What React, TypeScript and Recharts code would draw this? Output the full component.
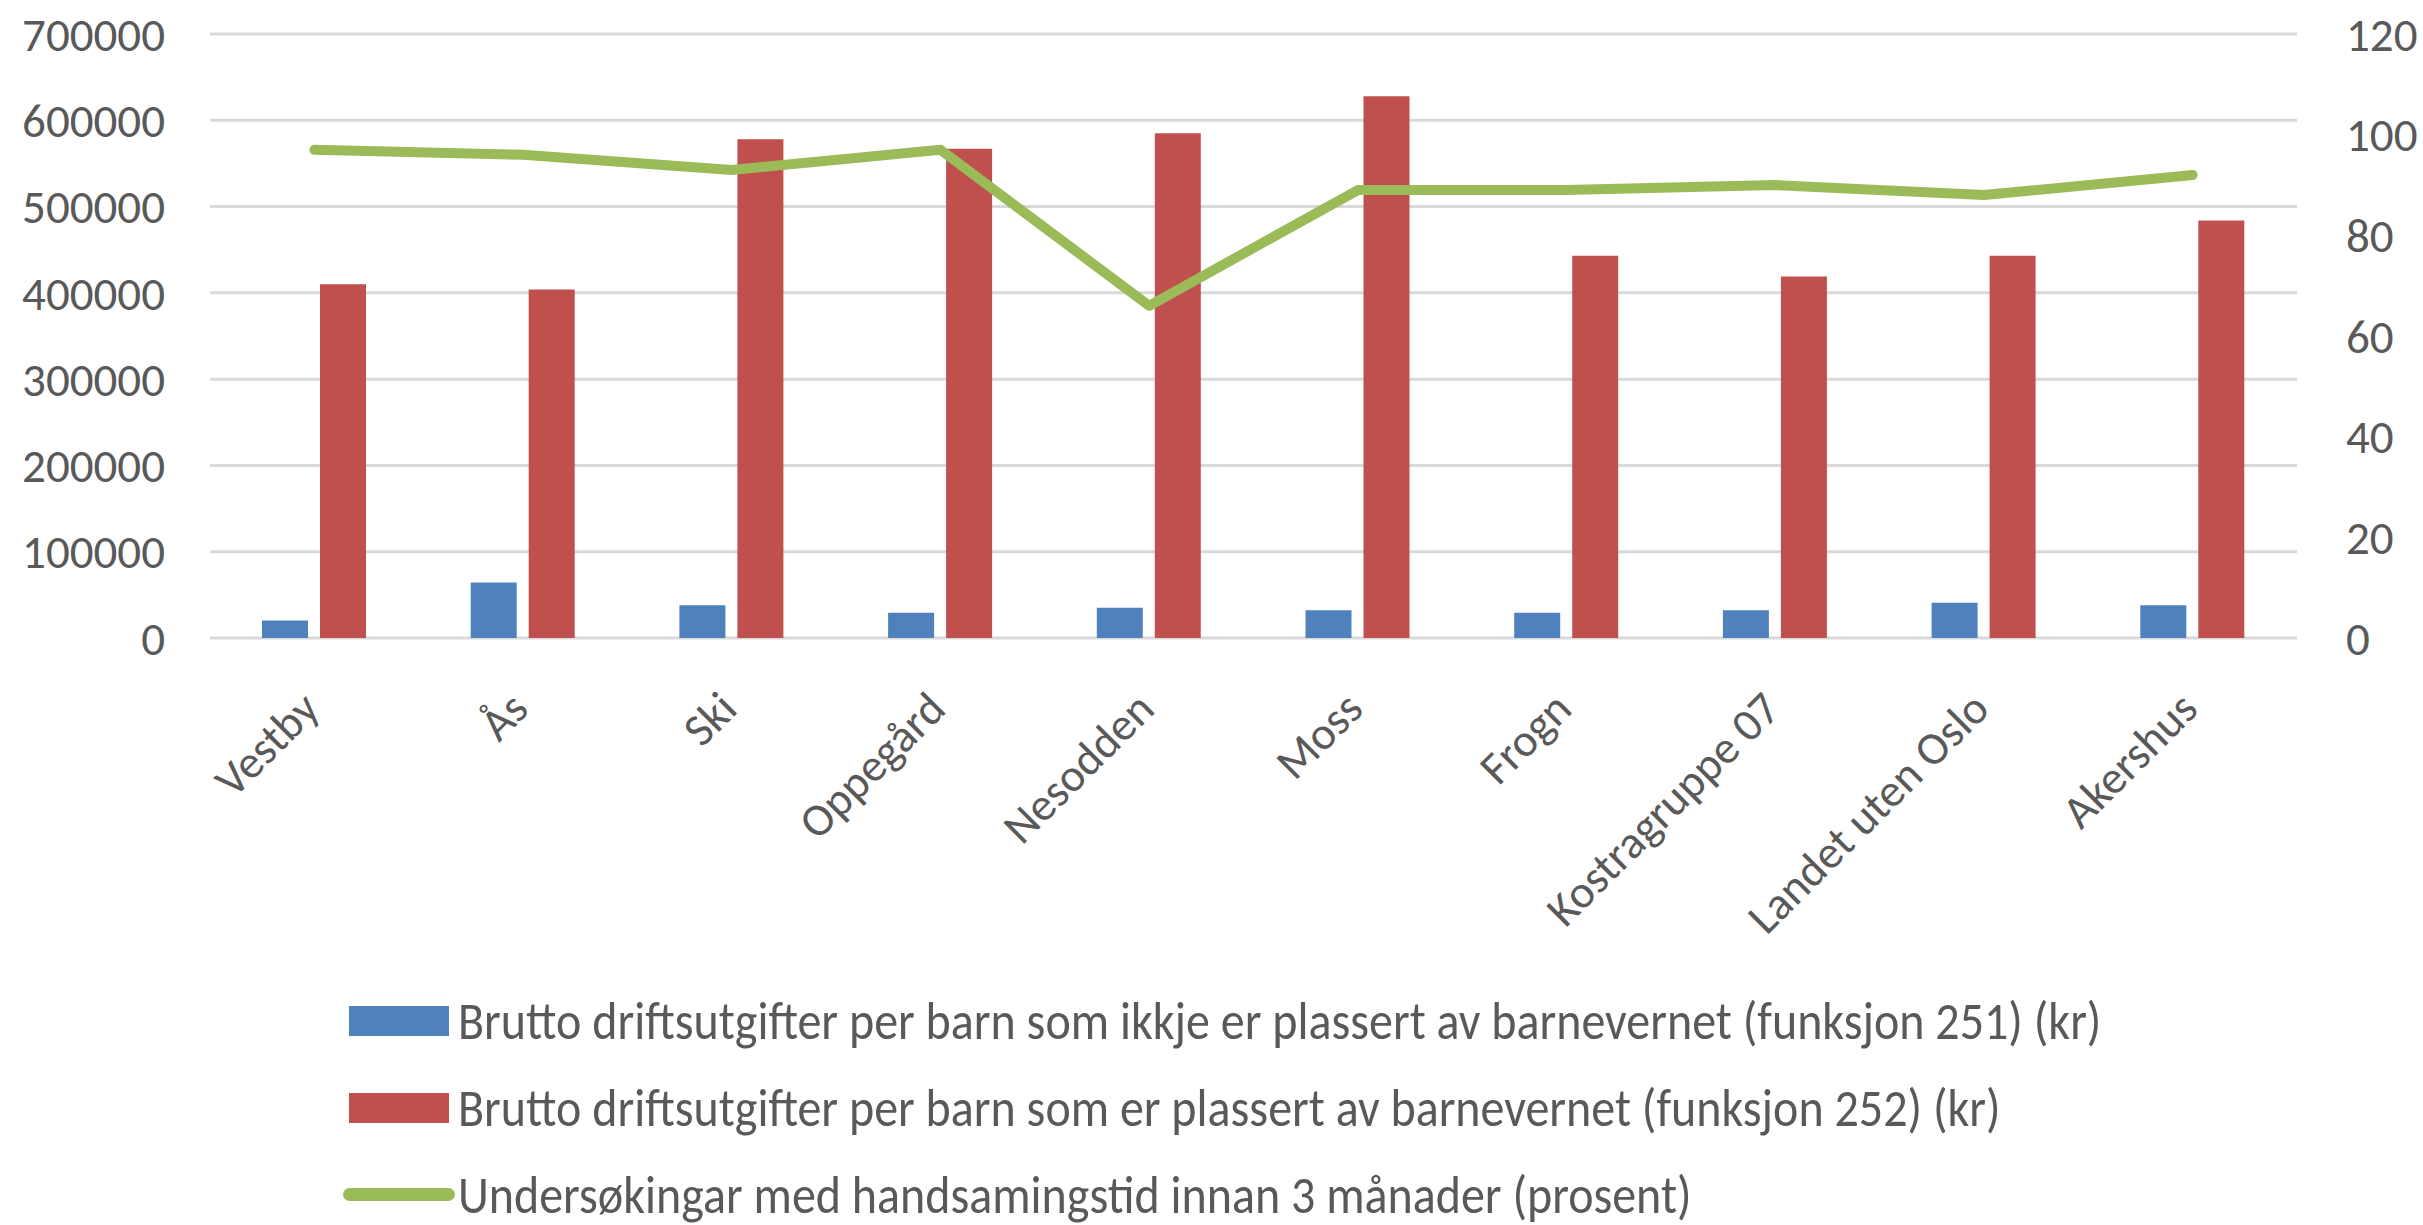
import React from 'react'
import { ComposedChart, Bar, Line, XAxis, YAxis, CartesianGrid } from 'recharts'

const categories = ['Vestby', 'Ås', 'Ski', 'Oppegård', 'Nesodden', 'Moss', 'Frogn', 'Kostragruppe 07', 'Landet uten Oslo', 'Akershus']
const utgifter251 = [20400, 64300, 38000, 29200, 35100, 32100, 29200, 32100, 40900, 38000]
const utgifter252 = [410000, 404000, 578000, 567000, 585000, 628000, 443000, 419000, 443000, 484000]
const innan3mnd = [97, 96, 93, 97, 66, 89, 89, 90, 88, 92]

const leftTicks = [0, 100000, 200000, 300000, 400000, 500000, 600000, 700000]
const rightTicks = [0, 20, 40, 60, 80, 100, 120]

const seriesNames = [
  'Brutto driftsutgifter per barn som ikkje er plassert av barnevernet (funksjon 251) (kr)',
  'Brutto driftsutgifter per barn som er plassert av barnevernet (funksjon 252) (kr)',
  'Undersøkingar med handsamingstid innan 3 månader (prosent)',
]

const BLUE = '#4F81BD'
const RED = '#C0504D'
const GREEN = '#9BBB59'
const TEXT = '#595959'
const FONT = 'Carlito, "Liberation Sans", Arial, sans-serif'

const data = categories.map((name, i) => ({
  name,
  f251: utgifter251[i],
  f252: utgifter252[i],
  pct: innan3mnd[i],
}))

const AXIS_TICK = { fontSize: 47, fill: TEXT, fontFamily: FONT }

function CategoryTick({ x, y, payload }: any) {
  return (
    <g transform={`translate(${x - 4},${y + 62})`}>
      <text transform="rotate(-45)" textAnchor="end" dy="0.35em" fill={TEXT} fontSize={46} fontFamily={FONT}>
        {payload.value}
      </text>
    </g>
  )
}

function LegendRow({ kind, color, label }: { kind: 'bar' | 'line'; color: string; label: string }) {
  return (
    <div style={{ display: 'flex', alignItems: 'center', height: 87 }}>
      <div style={{ width: 118, display: 'flex', justifyContent: 'center' }}>
        {kind === 'bar' ? (
          <div style={{ width: 100, height: 30, background: color }} />
        ) : (
          <div style={{ width: 112, height: 13, background: color, borderRadius: 7 }} />
        )}
      </div>
      <span
        style={{
          display: 'inline-block',
          fontSize: 48,
          lineHeight: 1,
          color: TEXT,
          fontFamily: FONT,
          whiteSpace: 'nowrap',
          transform: 'scaleY(1.1)',
        }}
      >
        {label}
      </span>
    </div>
  )
}

export default function App() {
  return (
    <div style={{ position: 'absolute', left: 0, top: 0, width: 2423, height: 1225, background: '#fff', overflow: 'hidden' }}>
      <ComposedChart width={2423} height={1225} data={data} margin={{ top: 34, right: 0, bottom: 0, left: 0 }} barGap={12}>
        <CartesianGrid yAxisId="left" vertical={false} stroke="#D9D9D9" strokeWidth={3} />
        <XAxis dataKey="name" interval={0} tick={<CategoryTick />} tickLine={false} axisLine={false} tickSize={0} tickMargin={0} height={587} />
        <YAxis
          yAxisId="left"
          domain={[0, 700000]}
          ticks={leftTicks}
          tick={AXIS_TICK}
          tickLine={false}
          axisLine={false}
          tickSize={0}
          tickMargin={45}
          width={210}
        />
        <YAxis
          yAxisId="right"
          orientation="right"
          domain={[0, 120]}
          ticks={rightTicks}
          tick={{ ...AXIS_TICK, textAnchor: 'start' }}
          tickLine={false}
          axisLine={false}
          tickSize={0}
          tickMargin={49}
          width={126}
        />
        <Bar yAxisId="left" dataKey="f251" name={seriesNames[0]} fill={BLUE} barSize={46} isAnimationActive={false} />
        <Bar yAxisId="left" dataKey="f252" name={seriesNames[1]} fill={RED} barSize={46} isAnimationActive={false} />
        <Line
          yAxisId="right"
          type="linear"
          dataKey="pct"
          name={seriesNames[2]}
          stroke={GREEN}
          strokeWidth={10}
          strokeLinecap="round"
          strokeLinejoin="round"
          dot={false}
          activeDot={false}
          isAnimationActive={false}
        />
      </ComposedChart>

      {/* Legend */}
      <div style={{ position: 'absolute', left: 340, top: 977 }}>
        <LegendRow kind="bar" color={BLUE} label={seriesNames[0]} />
        <LegendRow kind="bar" color={RED} label={seriesNames[1]} />
        <LegendRow kind="line" color={GREEN} label={seriesNames[2]} />
      </div>
    </div>
  )
}
